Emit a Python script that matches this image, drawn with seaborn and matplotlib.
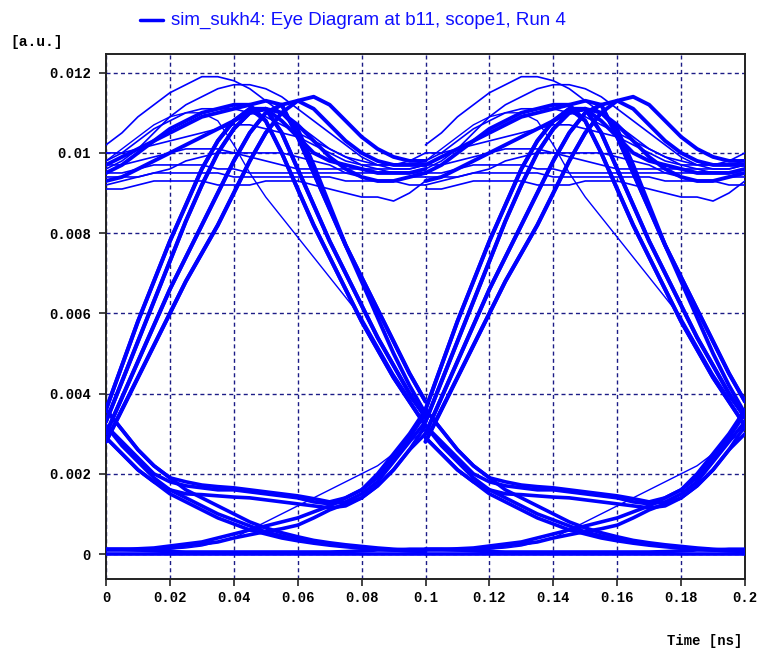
import matplotlib
matplotlib.use("Agg")
import matplotlib.pyplot as plt
import numpy as np
import pandas as pd
import seaborn as sns

# ---------------- data (a.u.) ----------------
# time samples inside one bit slot [ns]; the eye shows two slots (0-0.1, 0.1-0.2)
t_slot = [0.000, 0.005, 0.010, 0.015, 0.020, 0.025, 0.030, 0.035, 0.040, 0.045, 0.050,
          0.055, 0.060, 0.065, 0.070, 0.075, 0.080, 0.085, 0.090, 0.095, 0.100]
slot_starts = [0.0, 0.1]

# 0 -> 1 -> 0 isolated pulses
pulse_a = [0.0036, 0.0047, 0.0058, 0.0068, 0.0078, 0.0087, 0.0096, 0.0103, 0.0108, 0.0111, 0.0108,
           0.0100, 0.0091, 0.0082, 0.0074, 0.0066, 0.0058, 0.0051, 0.0044, 0.0038, 0.0032]
pulse_b = [0.0033, 0.0043, 0.0053, 0.0063, 0.0073, 0.0083, 0.0092, 0.0100, 0.0106, 0.0110, 0.0111,
           0.0105, 0.0096, 0.0087, 0.0078, 0.0070, 0.0062, 0.0054, 0.0047, 0.0040, 0.0034]
pulse_c = [0.0030, 0.0039, 0.0048, 0.0057, 0.0066, 0.0074, 0.0082, 0.0090, 0.0098, 0.0105, 0.0110,
           0.0112, 0.0104, 0.0095, 0.0086, 0.0077, 0.0069, 0.0061, 0.0053, 0.0045, 0.0038]
pulse_d = [0.0028, 0.0036, 0.0044, 0.0052, 0.0060, 0.0068, 0.0075, 0.0082, 0.0090, 0.0098, 0.0105,
           0.0110, 0.0106, 0.0097, 0.0087, 0.0077, 0.0068, 0.0059, 0.0050, 0.0042, 0.0035]
# 0 -> 1 -> 1
rise_high_a = [0.0036, 0.0047, 0.0058, 0.0068, 0.0078, 0.0087, 0.0096, 0.0103, 0.0108, 0.0111, 0.0111,
               0.0108, 0.0104, 0.0100, 0.0098, 0.0097, 0.0096, 0.0095, 0.0095, 0.0095, 0.0096]
rise_high_b = [0.0033, 0.0043, 0.0053, 0.0063, 0.0073, 0.0083, 0.0092, 0.0100, 0.0106, 0.0110, 0.0111,
               0.0110, 0.0107, 0.0103, 0.0099, 0.0096, 0.0094, 0.0093, 0.0093, 0.0094, 0.0095]
rise_high_c = [0.0030, 0.0039, 0.0048, 0.0057, 0.0066, 0.0074, 0.0082, 0.0090, 0.0098, 0.0105, 0.0110,
               0.0112, 0.0113, 0.0111, 0.0107, 0.0103, 0.0100, 0.0098, 0.0097, 0.0097, 0.0097]
rise_high_d = [0.0028, 0.0036, 0.0044, 0.0052, 0.0060, 0.0068, 0.0075, 0.0082, 0.0090, 0.0098, 0.0105,
               0.0110, 0.0113, 0.0114, 0.0112, 0.0108, 0.0104, 0.0101, 0.0099, 0.0098, 0.0098]
# 1 -> 1 -> 0
high_fall_a = [0.0095, 0.0097, 0.0100, 0.0103, 0.0106, 0.0108, 0.0110, 0.0111, 0.0112, 0.0112, 0.0108,
               0.0100, 0.0091, 0.0082, 0.0074, 0.0066, 0.0058, 0.0051, 0.0044, 0.0038, 0.0032]
high_fall_b = [0.0093, 0.0094, 0.0096, 0.0098, 0.0100, 0.0102, 0.0104, 0.0106, 0.0108, 0.0110, 0.0111,
               0.0105, 0.0096, 0.0087, 0.0078, 0.0070, 0.0062, 0.0054, 0.0047, 0.0040, 0.0034]
high_fall_c = [0.0097, 0.0099, 0.0101, 0.0103, 0.0105, 0.0107, 0.0109, 0.0110, 0.0111, 0.0112, 0.0113,
               0.0112, 0.0104, 0.0095, 0.0086, 0.0077, 0.0069, 0.0061, 0.0053, 0.0045, 0.0038]
high_fall_slow = [0.0098, 0.0101, 0.0104, 0.0107, 0.0109, 0.0110, 0.0110, 0.0108, 0.0102, 0.0095, 0.0089,
                  0.0084, 0.0079, 0.0074, 0.0069, 0.0064, 0.0059, 0.0052, 0.0045, 0.0039, 0.0034]
# 1 -> 1 -> 1
high_a = [0.0095, 0.0095, 0.0096, 0.0097, 0.0097, 0.0097, 0.0097, 0.0096, 0.0096, 0.0095, 0.0095,
          0.0095, 0.0095, 0.0095, 0.0095, 0.0095, 0.0095, 0.0095, 0.0095, 0.0095, 0.0095]
high_b = [0.0092, 0.0093, 0.0094, 0.0095, 0.0096, 0.0098, 0.0099, 0.0100, 0.0100, 0.0100, 0.0100,
          0.0100, 0.0099, 0.0098, 0.0097, 0.0095, 0.0094, 0.0093, 0.0093, 0.0092, 0.0092]
high_c = [0.0091, 0.0091, 0.0092, 0.0093, 0.0093, 0.0093, 0.0093, 0.0092, 0.0092, 0.0092, 0.0093,
          0.0093, 0.0093, 0.0092, 0.0091, 0.0090, 0.0089, 0.0089, 0.0088, 0.0090, 0.0093]
high_d = [0.0098, 0.0100, 0.0103, 0.0106, 0.0108, 0.0110, 0.0111, 0.0111, 0.0111, 0.0110, 0.0109,
          0.0107, 0.0105, 0.0103, 0.0101, 0.0099, 0.0098, 0.0097, 0.0097, 0.0097, 0.0098]
high_e = [0.0102, 0.0105, 0.0109, 0.0112, 0.0115, 0.0117, 0.0119, 0.0119, 0.0118, 0.0116, 0.0113,
          0.0110, 0.0107, 0.0104, 0.0101, 0.0099, 0.0097, 0.0096, 0.0095, 0.0095, 0.0096]
high_f = [0.0100, 0.0100, 0.0101, 0.0102, 0.0103, 0.0104, 0.0105, 0.0106, 0.0107, 0.0107, 0.0106,
          0.0105, 0.0104, 0.0102, 0.0100, 0.0098, 0.0097, 0.0097, 0.0097, 0.0098, 0.0100]
high_g = [0.0096, 0.0098, 0.0101, 0.0105, 0.0109, 0.0112, 0.0114, 0.0116, 0.0117, 0.0117, 0.0116,
          0.0114, 0.0111, 0.0108, 0.0105, 0.0102, 0.0099, 0.0097, 0.0096, 0.0096, 0.0097]
high_h = [0.0094, 0.0094, 0.0094, 0.0095, 0.0095, 0.0095, 0.0095, 0.0095, 0.0094, 0.0094, 0.0094,
          0.0094, 0.0094, 0.0094, 0.0094, 0.0093, 0.0093, 0.0093, 0.0093, 0.0094, 0.0094]
high_i = [0.0097, 0.0097, 0.0098, 0.0099, 0.0100, 0.0101, 0.0101, 0.0101, 0.0100, 0.0099, 0.0098,
          0.0097, 0.0096, 0.0096, 0.0096, 0.0096, 0.0096, 0.0096, 0.0096, 0.0096, 0.0097]
# 1 -> 0 -> 0
fall_low_a = [0.0036, 0.0031, 0.0026, 0.0022, 0.0019, 0.0016, 0.0014, 0.0012, 0.0010, 0.0008, 0.00065,
              0.00053, 0.00043, 0.00034, 0.00028, 0.00023, 0.00019, 0.00015, 0.00012, 0.0001, 0.0001]
fall_low_b = [0.0032, 0.0027, 0.0023, 0.0019, 0.0016, 0.0014, 0.0012, 0.0010, 0.00085, 0.0007, 0.00055,
              0.00045, 0.00036, 0.0003, 0.00024, 0.0002, 0.00016, 0.00013, 0.0001, 0.00008, 0.00008]
fall_low_c = [0.0029, 0.0025, 0.0021, 0.0018, 0.0015, 0.0013, 0.0011, 0.0009, 0.00075, 0.0006, 0.0005,
              0.0004, 0.00033, 0.00027, 0.00022, 0.00018, 0.00015, 0.00012, 0.0001, 0.00008, 0.00006]
# 1 -> 0 -> 1
fall_rise_a = [0.0036, 0.0031, 0.0026, 0.0022, 0.0019, 0.0018, 0.00172, 0.00168, 0.00165, 0.0016, 0.00155,
               0.0015, 0.00145, 0.00138, 0.0013, 0.0014, 0.0016, 0.0020, 0.0025, 0.0030, 0.0036]
fall_rise_b = [0.0032, 0.0028, 0.0024, 0.0020, 0.0018, 0.0017, 0.00165, 0.0016, 0.0016, 0.00155, 0.0015,
               0.00145, 0.0014, 0.0013, 0.00125, 0.0013, 0.0015, 0.0018, 0.0023, 0.0028, 0.0033]
fall_rise_c = [0.0029, 0.0025, 0.0021, 0.0018, 0.0016, 0.0015, 0.00148, 0.00145, 0.00142, 0.0014, 0.00135,
               0.0013, 0.00125, 0.0012, 0.00115, 0.0012, 0.0014, 0.0017, 0.0021, 0.0026, 0.0030]
# 0 -> 0 -> 1
slow_rise_a = [0.0001, 0.0001, 0.0001, 0.00012, 0.00015, 0.0002, 0.00025, 0.0003, 0.0004, 0.00048, 0.00056,
               0.00063, 0.00072, 0.0009, 0.0011, 0.00125, 0.0014, 0.0017, 0.0021, 0.0026, 0.0032]
slow_rise_b = [0.00012, 0.00012, 0.00013, 0.00015, 0.0002, 0.00025, 0.0003, 0.0004, 0.0005, 0.0006, 0.0007,
               0.0008, 0.0009, 0.00105, 0.0012, 0.0014, 0.0016, 0.0019, 0.0024, 0.0029, 0.0035]
slow_rise_c = [0.0001, 0.0001, 0.0001, 0.0001, 0.00012, 0.00015, 0.0002, 0.0003, 0.0004, 0.0006, 0.0008,
               0.0010, 0.0012, 0.0014, 0.0016, 0.0018, 0.0020, 0.0022, 0.0025, 0.0028, 0.0031]
# 0 -> 0 -> 0
low_a = [0.00012, 0.00012, 0.0001, 0.00008, 0.00006, 0.00005, 0.00005, 0.00005, 0.00005, 0.00005, 0.00005,
         0.00005, 0.00005, 0.00005, 0.00005, 0.00006, 0.00008, 0.0001, 0.0001, 0.00012, 0.00012]
low_b = [0.0, 0.0, 0.0, 0.0, 0.0, 0.0, 0.0, 0.0, 0.0, 0.0, 0.0,
         0.0, 0.0, 0.0, 0.0, 0.0, 0.0, 0.0, 0.0, 0.0, 0.0]

y_ticks = [0.0, 0.002, 0.004, 0.006, 0.008, 0.010, 0.012]
y_ticklabels = ["0", "0.002", "0.004", "0.006", "0.008", "0.01", "0.012"]
x_ticks = [0.0, 0.02, 0.04, 0.06, 0.08, 0.10, 0.12, 0.14, 0.16, 0.18, 0.20]
x_ticklabels = ["0", "0.02", "0.04", "0.06", "0.08", "0.1", "0.12", "0.14", "0.16", "0.18", "0.2"]
legend_label = "sim_sukh4: Eye Diagram at b11, scope1, Run 4"
y_unit = "[a.u.]"
x_title = "Time [ns]"

# line-width groups (style only)
groups = [
    ("band", 1.2, [high_a, high_b, high_c, high_d, high_e, high_f, high_g, high_h, high_i]),
    ("edge", 2.8, [pulse_a, pulse_b, pulse_c, pulse_d, rise_high_a, rise_high_b, rise_high_c,
                   rise_high_d, high_fall_a, high_fall_b, high_fall_c]),
    ("thin", 1.0, [high_fall_slow, slow_rise_c]),
    ("tail", 2.6, [fall_low_a, fall_low_b, fall_low_c, fall_rise_a, fall_rise_b, fall_rise_c,
                   slow_rise_a, slow_rise_b]),
    ("low", 2.6, [low_a, low_b]),
]

rows = []
uid = 0
for gname, lw, shapes in groups:
    for shape in shapes:
        for s0 in slot_starts:
            for tt, vv in zip(t_slot, shape):
                rows.append((gname, uid, s0 + tt, vv))
            uid += 1
df = pd.DataFrame(rows, columns=["group", "trace", "time", "amp"])

# ---------------- figure ----------------
sns.set_style("white")
plt.rcParams["font.family"] = ["Liberation Sans", "DejaVu Sans"]

fig = plt.figure(figsize=(7.61, 6.52), dpi=100)
ax = fig.add_axes([106 / 761, 1 - 579 / 652, 639 / 761, 525 / 652])

trace_color = "#0000ff"
for gname, lw, _ in groups:
    sub = df[df["group"] == gname]
    sns.lineplot(data=sub, x="time", y="amp", units="trace", estimator=None,
                 color=trace_color, lw=lw, sort=False, legend=False, ax=ax, zorder=3)

ax.set_xlim(0.0, 0.2)
ax.set_ylim(-0.000623, 0.012466)
ax.set_xticks(x_ticks)
ax.set_xticklabels(x_ticklabels)
ax.set_yticks(y_ticks)
ax.set_yticklabels(y_ticklabels)
ax.set_xlabel("")
ax.set_ylabel("")

ax.grid(True, color="#1c1c86", lw=1.0, linestyle=(0, (2.9, 2.3)), zorder=0)
ax.set_axisbelow(True)
for sp in ax.spines.values():
    sp.set_color("#222222")
    sp.set_linewidth(1.4)
    sp.set_visible(True)

mono = "Liberation Mono"
ax.tick_params(axis="both", which="both", direction="out", length=5, width=1.2,
               color="#222222", labelcolor="black", bottom=True, left=True)
ax.tick_params(axis="y", pad=6)
ax.tick_params(axis="x", pad=4)
for lab in ax.get_xticklabels() + ax.get_yticklabels():
    lab.set_fontfamily(mono)
    lab.set_fontsize(10)
    lab.set_fontweight("bold")

# legend-like title
fig.add_artist(plt.Line2D([140 / 761, 163 / 761], [1 - 20 / 652, 1 - 20 / 652],
                          color=trace_color, lw=2.5, transform=fig.transFigure))
fig.text(171 / 761, 1 - 20 / 652, legend_label, color="#1010ff", fontsize=13.5,
         family="Liberation Sans", va="center", ha="left")
fig.text(10 / 761, 1 - 42 / 652, y_unit, family=mono, fontsize=10.5, fontweight="bold",
         va="center", ha="left", color="black")
fig.text(742 / 761, 1 - 641 / 652, x_title, family=mono, fontsize=10, fontweight="bold",
         va="center", ha="right", color="black")

fig.savefig("out.png", dpi=100, facecolor="white")
